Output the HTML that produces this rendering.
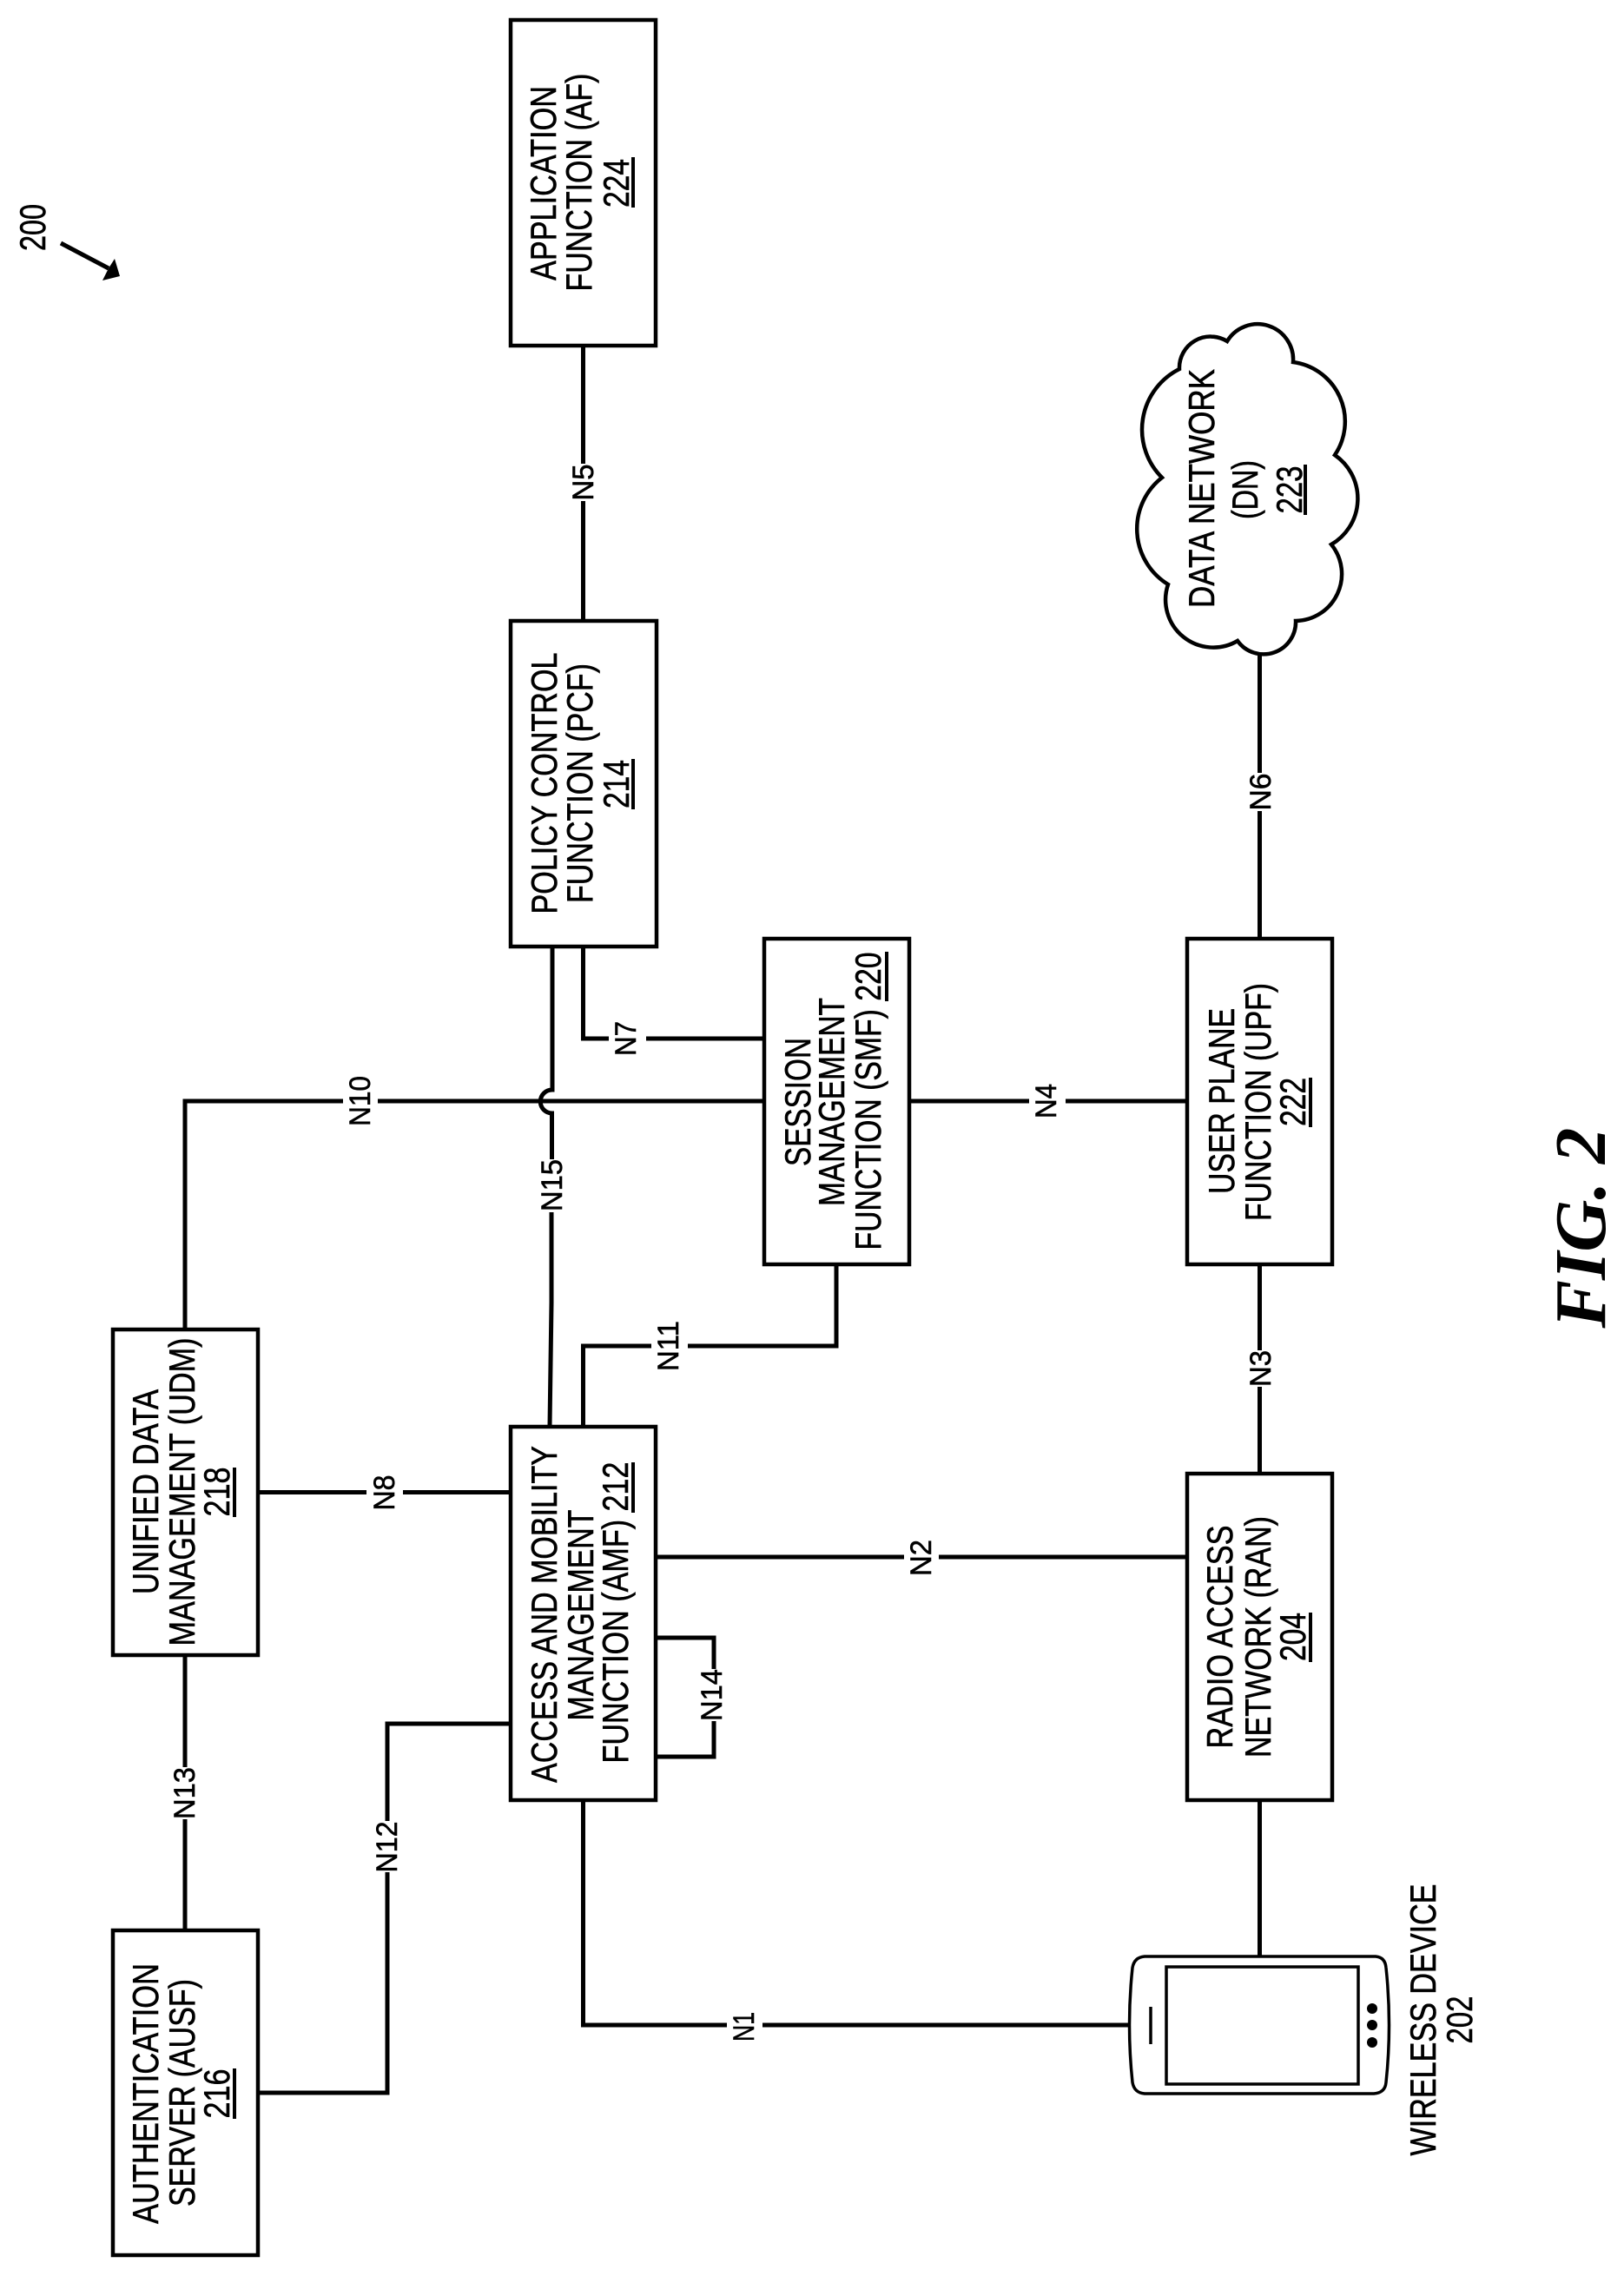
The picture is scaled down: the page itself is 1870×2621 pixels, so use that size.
<!DOCTYPE html>
<html lang="en"><head><meta charset="utf-8"><title>FIG. 2</title>
<style>
html,body{margin:0;padding:0;background:#fff}
svg{display:block}
text{font-family:"Liberation Sans",Arial,sans-serif;fill:#000;text-anchor:middle;stroke:#000;stroke-width:.6px}
.t{font-size:42px}
.n{font-size:34px}
.w{fill:none;stroke:#000;stroke-width:5;stroke-linejoin:miter}
.b{fill:none;stroke:#000;stroke-width:4.500}
.u{stroke:#000;stroke-width:4;fill:none}
</style></head><body>
<svg xmlns="http://www.w3.org/2000/svg" width="1870" height="2621" viewBox="0 0 1870 2621">
<rect width="1870" height="2621" fill="#fff"/>

<!-- connectors -->
<path class="w" d="M671.5 398V534M671.5 577V714"/>
<path class="w" d="M636 1090V1255A13 13 0 0 0 635.500 1282V1335M635 1396V1500L633 1642"/>
<path class="w" d="M671.500 1090V1196H701M744 1196H879"/>
<path class="w" d="M213 1530V1268H395M435 1268H879"/>
<path class="w" d="M1047 1268H1185M1227 1268H1366"/>
<path class="w" d="M1450.500 752V890M1450.500 934V1080"/>
<path class="w" d="M1450.500 1456V1555M1450.500 1597V1697"/>
<path class="w" d="M755 1793H1041M1081 1793H1366"/>
<path class="w" d="M297 1718.500H422M464 1718.500H587"/>
<path class="w" d="M671.500 1642V1550H750M792 1550H963V1456"/>
<path class="w" d="M297 2410H446V2156M446 2097V1985H587"/>
<path class="w" d="M213 1906V2035M213 2095V2223"/>
<path class="w" d="M755 1886H822V1922M822 1982V2023H755"/>
<path class="w" d="M671.500 2073V2332H837M878 2332H1300"/>
<path class="w" d="M1450.500 2073V2252"/>

<!-- boxes -->
<rect class="b" x="588" y="23" width="167" height="375"/>
<rect class="b" x="588" y="715" width="168" height="375"/>
<rect class="b" x="880" y="1081" width="167" height="375"/>
<rect class="b" x="1367" y="1081" width="167" height="375"/>
<rect class="b" x="1367" y="1697" width="167" height="376"/>
<rect class="b" x="588" y="1643" width="167" height="430"/>
<rect class="b" x="130" y="1531" width="167" height="375"/>
<rect class="b" x="130" y="2223" width="167" height="374"/>

<!-- cloud -->
<path fill="#fff" stroke="#000" stroke-width="4.500" stroke-linejoin="miter" d="M1358 425A36 36 0 0 1 1413 393A41 41 0 0 1 1489 417A69 69 0 0 1 1537 524A61 61 0 0 1 1533 627A54 54 0 0 1 1492 715A37 37 0 0 1 1425 738A55 55 0 0 1 1345 673A75 75 0 0 1 1338 550A78 78 0 0 1 1358 425Z"/>

<!-- phone -->
<path fill="#fff" stroke="#000" stroke-width="3.500" d="M1318 2253H1584Q1595 2254 1596 2266Q1603 2332 1596 2398Q1595 2410 1582 2411H1318Q1306 2410 1304 2398Q1297 2332 1304 2266Q1306 2254 1318 2253Z"/>
<rect x="1343" y="2265" width="221" height="135" fill="#fff" stroke="#000" stroke-width="3.500"/>
<path d="M1325 2311V2354" stroke="#000" stroke-width="3.500" fill="none"/>
<circle cx="1580" cy="2313" r="6"/><circle cx="1580" cy="2332" r="6"/><circle cx="1580" cy="2352" r="6"/>

<!-- reference arrow -->
<path d="M70 280L125 309" stroke="#000" stroke-width="5" fill="none"/>
<path d="M138 318L132 298L125 309L118 323Z"/>
<text class="t" transform="translate(52,262) rotate(-90)" textLength="54" lengthAdjust="spacingAndGlyphs">200</text>

<!-- box labels -->
<text class="t" transform="translate(640,211) rotate(-90)" textLength="224" lengthAdjust="spacingAndGlyphs">APPLICATION</text>
<text class="t" transform="translate(681,210) rotate(-90)" textLength="251" lengthAdjust="spacingAndGlyphs">FUNCTION (AF)</text>
<text class="t" transform="translate(724,211) rotate(-90)" textLength="56" lengthAdjust="spacingAndGlyphs">224</text>
<path class="u" d="M729 181V239"/>

<text class="t" transform="translate(641,902) rotate(-90)" textLength="301" lengthAdjust="spacingAndGlyphs">POLICY CONTROL</text>
<text class="t" transform="translate(682,902) rotate(-90)" textLength="276" lengthAdjust="spacingAndGlyphs">FUNCTION (PCF)</text>
<text class="t" transform="translate(724,903) rotate(-90)" textLength="56" lengthAdjust="spacingAndGlyphs">214</text>
<path class="u" d="M729 874V932"/>

<text class="t" transform="translate(933,1269) rotate(-90)" textLength="148" lengthAdjust="spacingAndGlyphs">SESSION</text>
<text class="t" transform="translate(972,1269) rotate(-90)" textLength="240" lengthAdjust="spacingAndGlyphs">MANAGEMENT</text>
<text class="t" transform="translate(1014,1268) rotate(-90)" textLength="343" lengthAdjust="spacingAndGlyphs">FUNCTION (SMF) 220</text>
<path class="u" d="M1021 1096V1153"/>

<text class="t" transform="translate(1421,1268) rotate(-90)" textLength="214" lengthAdjust="spacingAndGlyphs">USER PLANE</text>
<text class="t" transform="translate(1463,1269) rotate(-90)" textLength="274" lengthAdjust="spacingAndGlyphs">FUNCTION (UPF)</text>
<text class="t" transform="translate(1503,1269) rotate(-90)" textLength="56" lengthAdjust="spacingAndGlyphs">222</text>
<path class="u" d="M1509 1241V1298"/>

<text class="t" transform="translate(1419,1885) rotate(-90)" textLength="257" lengthAdjust="spacingAndGlyphs">RADIO ACCESS</text>
<text class="t" transform="translate(1463,1885) rotate(-90)" textLength="278" lengthAdjust="spacingAndGlyphs">NETWORK (RAN)</text>
<text class="t" transform="translate(1503,1885) rotate(-90)" textLength="56" lengthAdjust="spacingAndGlyphs">204</text>
<path class="u" d="M1509 1857V1914"/>

<text class="t" transform="translate(1653,2326) rotate(-90)" textLength="313" lengthAdjust="spacingAndGlyphs">WIRELESS DEVICE</text>
<text class="t" transform="translate(1695,2326) rotate(-90)" textLength="55" lengthAdjust="spacingAndGlyphs">202</text>

<text class="t" transform="translate(1398,562.500) rotate(-90)" textLength="275" lengthAdjust="spacingAndGlyphs">DATA NETWORK</text>
<text class="t" transform="translate(1448,564) rotate(-90)" textLength="68" lengthAdjust="spacingAndGlyphs">(DN)</text>
<text class="t" transform="translate(1499,564) rotate(-90)" textLength="55" lengthAdjust="spacingAndGlyphs">223</text>
<path class="u" d="M1503 535V593"/>

<text class="t" transform="translate(182,1718) rotate(-90)" textLength="236" lengthAdjust="spacingAndGlyphs">UNIFIED DATA</text>
<text class="t" transform="translate(224,1718) rotate(-90)" textLength="355" lengthAdjust="spacingAndGlyphs">MANAGEMENT (UDM)</text>
<text class="t" transform="translate(264,1718) rotate(-90)" textLength="57" lengthAdjust="spacingAndGlyphs">218</text>
<path class="u" d="M270 1690V1747"/>

<text class="t" transform="translate(182,2411) rotate(-90)" textLength="300" lengthAdjust="spacingAndGlyphs">AUTHENTICATION</text>
<text class="t" transform="translate(224,2410) rotate(-90)" textLength="262" lengthAdjust="spacingAndGlyphs">SERVER (AUSF)</text>
<text class="t" transform="translate(264,2411) rotate(-90)" textLength="57" lengthAdjust="spacingAndGlyphs">216</text>
<path class="u" d="M270 2382V2440"/>

<text class="t" transform="translate(641,1859) rotate(-90)" textLength="388" lengthAdjust="spacingAndGlyphs">ACCESS AND MOBILITY</text>
<text class="t" transform="translate(683,1860) rotate(-90)" textLength="243" lengthAdjust="spacingAndGlyphs">MANAGEMENT</text>
<text class="t" transform="translate(723,1857) rotate(-90)" textLength="347" lengthAdjust="spacingAndGlyphs">FUNCTION (AMF) 212</text>
<path class="u" d="M729 1684V1742"/>

<!-- connector labels -->
<text class="n" transform="translate(683,555.500) rotate(-90)" textLength="42" lengthAdjust="spacingAndGlyphs">N5</text>
<text class="n" transform="translate(732,1196) rotate(-90)" textLength="40" lengthAdjust="spacingAndGlyphs">N7</text>
<text class="n" transform="translate(426,1268) rotate(-90)" textLength="58" lengthAdjust="spacingAndGlyphs">N10</text>
<text class="n" transform="translate(647,1365) rotate(-90)" textLength="60" lengthAdjust="spacingAndGlyphs">N15</text>
<text class="n" transform="translate(1216,1268) rotate(-90)" textLength="40" lengthAdjust="spacingAndGlyphs">N4</text>
<text class="n" transform="translate(1463,912) rotate(-90)" textLength="43" lengthAdjust="spacingAndGlyphs">N6</text>
<text class="n" transform="translate(1463,1576) rotate(-90)" textLength="42" lengthAdjust="spacingAndGlyphs">N3</text>
<text class="n" transform="translate(1072,1794) rotate(-90)" textLength="42" lengthAdjust="spacingAndGlyphs">N2</text>
<text class="n" transform="translate(454,1719) rotate(-90)" textLength="41" lengthAdjust="spacingAndGlyphs">N8</text>
<text class="n" transform="translate(781,1550) rotate(-90)" textLength="58" lengthAdjust="spacingAndGlyphs">N11</text>
<text class="n" transform="translate(457,2127) rotate(-90)" textLength="59" lengthAdjust="spacingAndGlyphs">N12</text>
<text class="n" transform="translate(224,2065) rotate(-90)" textLength="60" lengthAdjust="spacingAndGlyphs">N13</text>
<text class="n" transform="translate(831,1952) rotate(-90)" textLength="60" lengthAdjust="spacingAndGlyphs">N14</text>
<text class="n" transform="translate(868,2334) rotate(-90)" textLength="34" lengthAdjust="spacingAndGlyphs">N1</text>

<!-- figure title -->
<text transform="translate(1848,1414) rotate(-90)" textLength="231" lengthAdjust="spacingAndGlyphs" style="font-family:'Liberation Serif',serif;font-weight:bold;font-style:italic;font-size:84px;stroke:none">FIG. 2</text>
</svg>
</body></html>
